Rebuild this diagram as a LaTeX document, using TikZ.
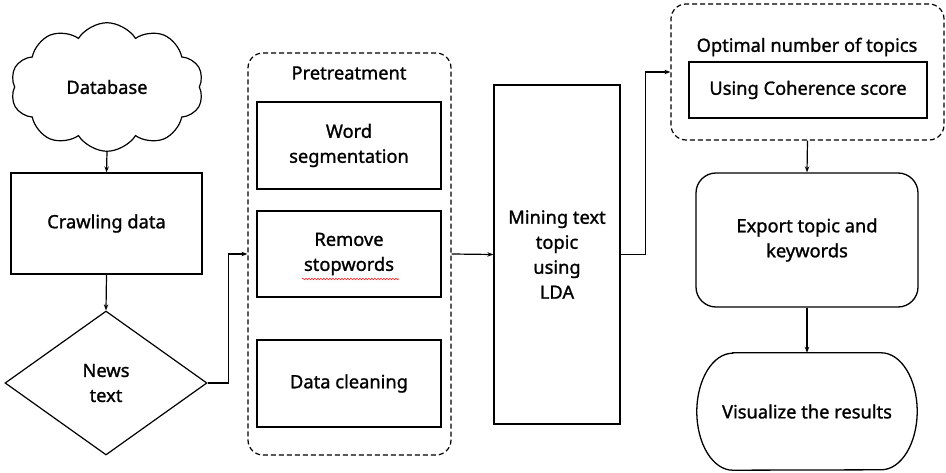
\documentclass[tikz,border=0pt]{standalone}
\usepackage{fontspec}
\setmainfont{Noto Sans}[FakeBold=1.2]
\usetikzlibrary{shapes.geometric,shapes.symbols,arrows.meta,decorations.pathmorphing}
\begin{document}
\begin{tikzpicture}[x=1pt,y=-1pt,
  every node/.style={font=\fontsize{18.3}{25}\selectfont, align=center, inner sep=0pt},
  solidbox/.style={draw, line width=1.3pt, rectangle},
  dashbox/.style={draw, line width=1.2pt, rectangle, rounded corners=15pt, dash pattern=on 5pt off 3pt},
  arr/.style={line width=1.2pt, -{Stealth[length=6pt,width=4.5pt]}}
]
\useasboundingbox (0,0) rectangle (946,473);
\fill[white] (0,0) rectangle (946,473);

% left column
\node[draw, line width=1.2pt, cloud, cloud puffs=10, cloud puff arc=115, minimum width=193pt, minimum height=107pt] (db) at (107,87) {Database};
\node[solidbox, minimum width=191pt, minimum height=101pt] (crawl) at (106.5,223.5) {Crawling data};
\node[draw, line width=1.2pt, diamond, minimum width=202pt, minimum height=144pt] (news) at (106,383) {News\\text};

% pretreatment
\node[dashbox, minimum width=203pt, minimum height=402pt] (pre) at (349.5,254) {};
\node (pretitle) at (349,73) {Pretreatment};
\node[solidbox, minimum width=184pt, minimum height=87pt] (ws) at (349,145.5) {Word\\segmentation};
\node[solidbox, minimum width=184pt, minimum height=86pt] (rs) at (349,254) {Remove\\stopwords};
\node[solidbox, minimum width=184pt, minimum height=87pt] (dc) at (349,383.5) {Data cleaning};
\draw[red!80!pink, line width=0.6pt, decorate, decoration={snake, amplitude=0.8pt, segment length=3pt}]
  ([xshift=-47pt,yshift=-25pt]rs.center) -- ([xshift=50pt,yshift=-25pt]rs.center);

% LDA
\node[solidbox, minimum width=126pt, minimum height=339pt] (lda) at (557,254.5) {Mining text\\topic\\using\\LDA};

% right column
\node[dashbox, minimum width=273pt, minimum height=136pt] (opt) at (807.5,72) {};
\node (opttitle) at (807,47) {Optimal number of topics};
\node[solidbox, minimum width=238pt, minimum height=56pt] (coh) at (808,90) {Using Coherence score};
\node[draw, line width=1.3pt, rectangle, rounded corners=20pt, minimum width=222pt, minimum height=134pt] (exp) at (807,240) {Export topic and\\keywords};
\node[minimum width=220pt, minimum height=117pt] (vis) at (807,411.5) {Visualize the results};
\draw[line width=1.3pt] ([xshift=36pt]vis.north west) -- ([xshift=-36pt]vis.north east)
  arc[start angle=90, end angle=-90, x radius=36pt, y radius=58.5pt]
  -- ([xshift=36pt]vis.south west)
  arc[start angle=270, end angle=90, x radius=36pt, y radius=58.5pt] -- cycle;

% connectors
\draw[arr] (db.south) -- (crawl.north);
\draw[arr] (crawl.south) -- (news.north);
\draw[arr] (news.east) -- ++(21,0) |- (pre.west);
\draw[arr] (pre.east) -- (lda.west);
\draw[arr] (lda.east) -- ++(25,0) |- (opt.west);
\draw[arr] (opt.south) -- (exp.north);
\draw[arr] (exp.south) -- (vis.north);
\end{tikzpicture}
\end{document}
